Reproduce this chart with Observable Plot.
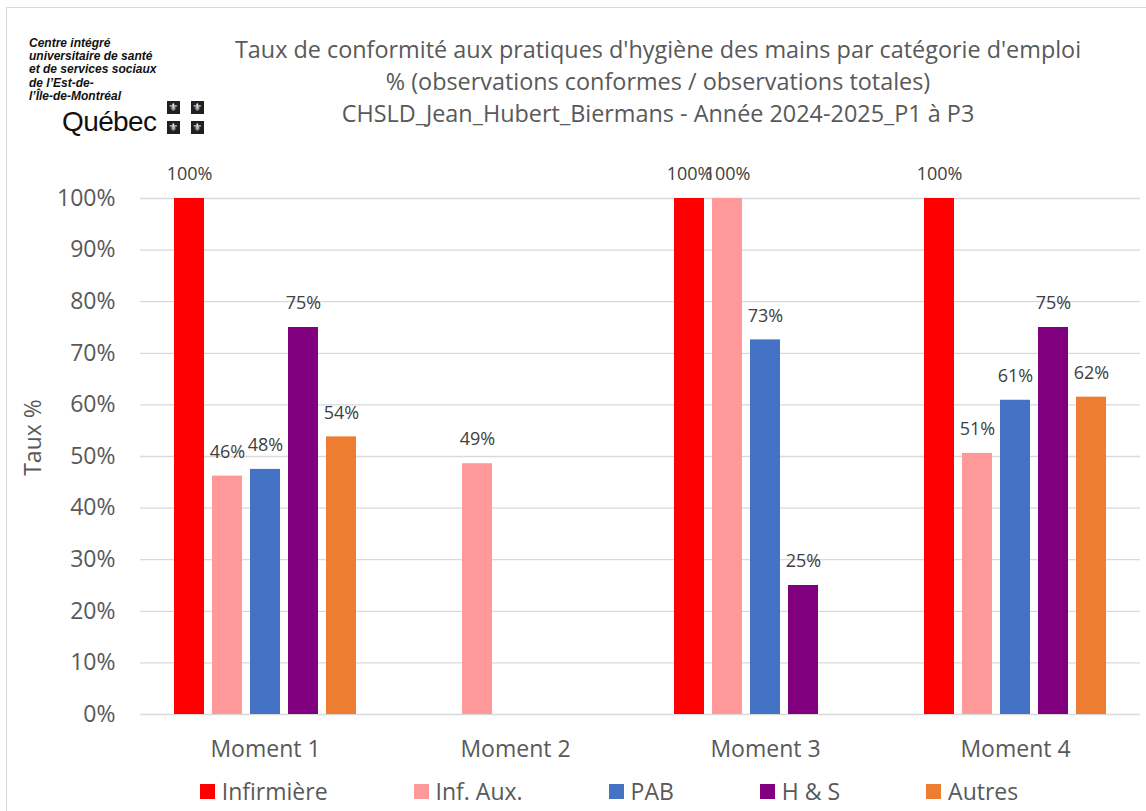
<!DOCTYPE html>
<html><head><meta charset="utf-8">
<script src="https://cdn.jsdelivr.net/npm/d3@7"></script>
<script src="https://cdn.jsdelivr.net/npm/@observablehq/plot@0.6"></script>
<style>
  body { margin:0; background:#fff; font-family:'Open Sans', sans-serif; }
  #page { position:relative; width:1146px; height:811px; overflow:hidden; background:#fff; }
  #frame { position:absolute; left:6px; top:7px; width:1200px; height:900px; border:1px solid #d9d9d9; box-sizing:border-box; }
  #logo { position:absolute; left:29px; top:37px; font-family:'Liberation Sans Narrow','Liberation Sans',sans-serif; font-weight:bold; font-style:italic; font-size:12px; line-height:13.2px; color:#111; }
  #quebec { position:absolute; left:62px; top:106px; font-family:'Liberation Sans',sans-serif; font-size:28px; line-height:32px; color:#111; letter-spacing:-0.6px; }
  .flag { position:absolute; width:13px; height:13px; background:#231f20; color:#fff; font-family:'DejaVu Sans'; font-size:11px; line-height:13px; text-align:center; }
  #title { position:absolute; left:358px; width:600px; top:33px; text-align:center; white-space:nowrap; color:#595959; font-size:23.4px; line-height:32px; }
  #title div { display:flex; justify-content:center; }
  #chart { position:absolute; left:0; top:150px; }
  #legend { position:absolute; left:0; width:1218px; top:776px; display:flex; justify-content:center; gap:86px; color:#595959; font-size:23px; line-height:30px; }
  .item { display:flex; align-items:center; gap:7px; white-space:nowrap; }
  .sw { width:15px; height:15px; display:inline-block; }
</style>
</head><body>
<div id="page">
  <div id="frame"></div>
  <div id="logo">Centre intégré<br>universitaire de santé<br>et de services sociaux<br>de l’Est-de-<br>l’Île-de-Montréal</div>
  <div id="quebec">Québec</div>
  <div class="flag" style="left:167px;top:101px">⚜</div>
  <div class="flag" style="left:191px;top:101px">⚜</div>
  <div class="flag" style="left:167px;top:121px">⚜</div>
  <div class="flag" style="left:191px;top:121px">⚜</div>
  <div id="title"></div>
  <div id="chart"></div>
  <div id="legend"></div>
</div>
<script>
// ---- data ----
const titleLines = [
  "Taux de conformité aux pratiques d'hygiène des mains par catégorie d'emploi",
  "% (observations conformes / observations totales)",
  "CHSLD_Jean_Hubert_Biermans - Année 2024-2025_P1 à P3"
];
const moments = ["Moment 1", "Moment 2", "Moment 3", "Moment 4"];
const categories = ["Infirmière", "Inf. Aux.", "PAB", "H & S", "Autres"];
const colors = ["#ff0000", "#ff9999", "#4472c4", "#800080", "#ed7d31"];
const infirmiere = [100, null, 100, 100];
const infAux = [46.2, 48.6, 100, 50.6];
const pab = [47.5, null, 72.6, 60.9];
const hs = [75, null, 25, 75];
const autres = [53.8, null, null, 61.5];
const yTicks = [0, 10, 20, 30, 40, 50, 60, 70, 80, 90, 100];
const yLabel = "Taux %";

const seriesValues = [infirmiere, infAux, pab, hs, autres];
const data = categories.flatMap((c, i) =>
  moments.map((m, j) => ({ moment: m, cat: c, value: seriesValues[i][j] }))
).filter(d => d.value != null);

// ---- title ----
const title = document.getElementById("title");
titleLines.forEach(t => { const d = document.createElement("div"); d.textContent = t; title.appendChild(d); });

// ---- chart ----
const chart = Plot.plot({
  width: 1146,
  height: 615,
  marginLeft: 140,
  marginRight: 6,
  marginTop: 48,
  marginBottom: 51,
  style: { fontFamily: "'Open Sans', sans-serif", color: "#595959", background: "transparent", overflow: "visible" },
  fx: { domain: moments, padding: 0, label: null, axis: null },
  x: { domain: categories, paddingInner: 0.22, paddingOuter: 0.857, axis: null },
  y: { domain: [0, 100], axis: null },
  color: { domain: categories, range: colors },
  marks: [
    Plot.ruleY(yTicks, { stroke: "#d9d9d9", strokeWidth: 1.3 }),
    Plot.barY(data, { fx: "moment", x: "cat", y: "value", fill: "cat" }),
    Plot.text(data, { fx: "moment", x: "cat", y: "value", text: d => Math.round(d.value) + "%", dy: -24, fontSize: 18, fill: "#404040" }),
    Plot.axisY(yTicks, { tickSize: 0, tickPadding: 25, fontSize: 23, tickFormat: d => d + "%", label: null }),
    Plot.axisFx({ anchor: "bottom", tickSize: 0, tickPadding: 26, fontSize: 23, label: null }),
    Plot.text([yLabel], { fx: () => moments[0], frameAnchor: "left", textAnchor: "middle", dx: -107, dy: -19, rotate: -90, fontSize: 23, fill: "#595959" })
  ]
});
document.getElementById("chart").appendChild(chart);

// ---- legend ----
const legend = document.getElementById("legend");
categories.forEach((c, i) => {
  const it = document.createElement("div"); it.className = "item";
  const sw = document.createElement("span"); sw.className = "sw"; sw.style.background = colors[i];
  const tx = document.createElement("span"); tx.textContent = c;
  it.appendChild(sw); it.appendChild(tx); legend.appendChild(it);
});
</script>
</body></html>
